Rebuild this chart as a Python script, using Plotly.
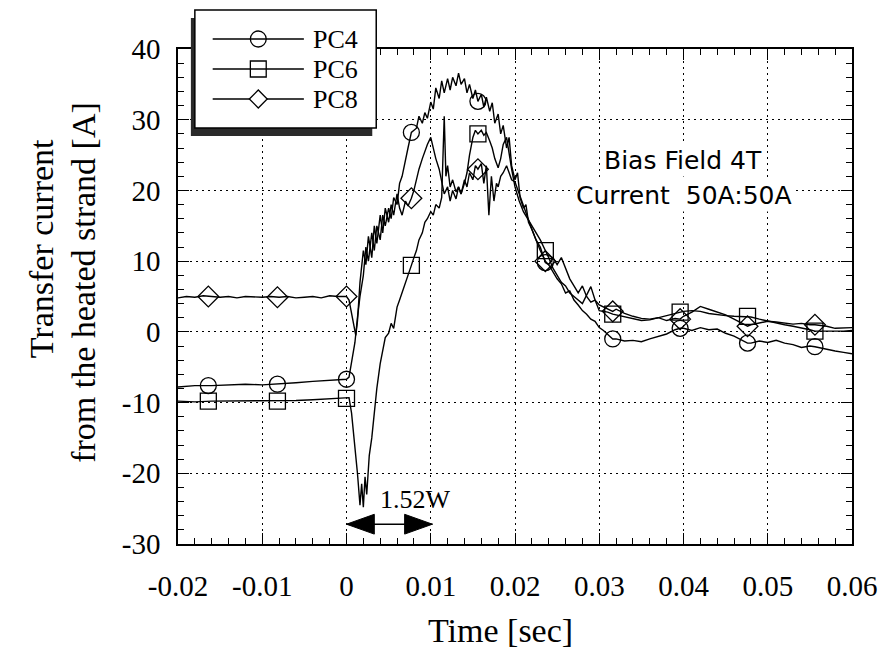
import plotly.graph_objects as go

# ---------------- data ----------------
pc4_t = [-0.02, -0.018, -0.016, -0.014, -0.012, -0.010, -0.008, -0.006, -0.004, -0.002, -0.0005, 0.0, 0.0003,
         0.0006, 0.001, 0.0013, 0.0016, 0.002, 0.0023, 0.0026, 0.003, 0.0033, 0.0036, 0.004, 0.0043, 0.0046,
         0.005, 0.0053, 0.0056, 0.006, 0.0063, 0.0066, 0.007, 0.0073, 0.0077, 0.008, 0.0083, 0.0086, 0.009,
         0.0093, 0.0096, 0.010, 0.0103, 0.0106, 0.011, 0.0113, 0.0116, 0.012, 0.0123, 0.0126, 0.013, 0.0133,
         0.0136, 0.014, 0.0143, 0.0146, 0.015, 0.0153, 0.0156, 0.016, 0.0163, 0.0166, 0.017, 0.0173, 0.0176,
         0.018, 0.0183, 0.0186, 0.019, 0.0193, 0.0196, 0.020, 0.0203, 0.0206, 0.021, 0.0213, 0.0216, 0.022,
         0.0225, 0.023, 0.0236, 0.024, 0.0245, 0.025, 0.0255, 0.026, 0.0265, 0.027, 0.0275, 0.028, 0.0285,
         0.029, 0.0295, 0.030, 0.0305, 0.031, 0.0316, 0.032, 0.033, 0.034, 0.035, 0.036, 0.037, 0.038, 0.039,
         0.0396, 0.040, 0.041, 0.042, 0.043, 0.044, 0.045, 0.046, 0.047, 0.0476, 0.048, 0.049, 0.050, 0.051,
         0.052, 0.053, 0.054, 0.055, 0.0556, 0.057, 0.058, 0.059, 0.060]
pc4_v = [-7.8, -7.6, -7.6, -7.5, -7.4, -7.5, -7.4, -7.2, -7.0, -6.9, -6.8, -6.7, -6.4,
         -4.5, -1.5, 2.0, 5.0, 8.0, 12.0, 10.0, 14.0, 11.5, 15.0, 13.0, 16.5, 15.0,
         17.5, 16.0, 19.0, 18.0, 21.0, 22.0, 24.5, 26.0, 28.2, 28.5, 28.8, 30.5, 29.5,
         31.0, 30.2, 32.5, 31.5, 34.5, 33.0, 35.5, 33.8, 35.8, 34.2, 36.0, 34.8, 36.6,
         35.0, 35.8, 33.8, 35.0, 33.0, 34.2, 32.6, 33.6, 31.8, 33.2, 31.2, 32.4, 29.5,
         30.8, 28.0, 29.2, 26.0, 27.5, 23.5, 21.5, 22.5, 19.0, 17.5, 18.0, 15.5, 14.5,
         13.0, 12.0, 9.8, 9.5, 8.5, 7.5, 6.8, 5.5, 5.8, 4.5, 3.8, 3.0, 2.5,
         1.8, 1.5, 0.6, 0.2, -0.3, -1.0, -1.0, -1.3, -1.2, -1.4, -1.0, -0.6, -0.3, 0.3,
         0.5, 0.5, 0.2, 0.6, 0.3, 0.4, -0.2, -0.6, -1.2, -1.6, -1.6, -1.3, -1.5, -1.2,
         -1.6, -1.8, -2.2, -2.0, -2.1, -2.5, -2.7, -2.9, -3.1]

pc6_t = [-0.02, -0.018, -0.016, -0.014, -0.012, -0.010, -0.008, -0.006, -0.004, -0.002, 0.0, 0.0003,
         0.0006, 0.001, 0.0013, 0.0016, 0.0018, 0.002, 0.0022, 0.0024, 0.0027, 0.003, 0.0033, 0.0036,
         0.004, 0.0043, 0.0046, 0.005, 0.0053, 0.0056, 0.006, 0.0063, 0.0066, 0.007, 0.0073, 0.0077,
         0.008, 0.0083, 0.0086, 0.009, 0.0093, 0.0096, 0.010, 0.0103, 0.0106, 0.011, 0.0113, 0.0116,
         0.0118, 0.012, 0.0123, 0.0126, 0.013, 0.0133, 0.0136, 0.014, 0.0143, 0.0146, 0.015, 0.0153,
         0.0156, 0.016, 0.0163, 0.0166, 0.017, 0.0173, 0.0176, 0.018, 0.0183, 0.0186, 0.019, 0.0193,
         0.0196, 0.020, 0.0205, 0.021, 0.0215, 0.022, 0.0225, 0.023, 0.0236, 0.024, 0.0245, 0.025,
         0.0255, 0.026, 0.0265, 0.027, 0.0275, 0.028, 0.029, 0.0295, 0.030, 0.031, 0.0316, 0.032, 0.033,
         0.034, 0.035, 0.036, 0.037, 0.038, 0.039, 0.0396, 0.040, 0.041, 0.042, 0.043, 0.044, 0.045,
         0.046, 0.047, 0.0476, 0.048, 0.049, 0.050, 0.051, 0.052, 0.053, 0.054, 0.055, 0.0556, 0.057,
         0.058, 0.059, 0.060]
pc6_v = [-9.8, -9.9, -9.8, -9.8, -9.7, -9.8, -9.8, -9.7, -9.6, -9.5, -9.4, -9.3,
         -11.5, -16.0, -20.0, -24.5, -21.5, -24.8, -20.5, -23.0, -17.5, -15.0, -11.5, -8.0,
         -4.5, -2.5, -0.8, -0.2, 1.2, 0.5, 3.5, 4.5, 5.5, 7.0, 7.8, 9.4,
         10.5, 11.5, 13.0, 14.0, 15.5, 16.0, 17.0, 16.5, 18.0, 17.5, 19.0, 30.5,
         22.0, 23.5, 20.5, 21.5, 19.8, 20.5, 19.5, 21.0, 22.5, 25.0, 27.5, 28.5,
         28.0, 28.5, 27.8, 28.2, 27.0, 26.0, 24.5, 23.2, 24.5, 26.5, 27.5, 25.0,
         23.0, 20.5, 18.5, 17.0, 16.0, 15.0, 14.0, 13.0, 11.5, 10.5, 9.0, 8.0,
         7.0, 6.5, 5.5, 5.0, 4.5, 4.0, 6.4, 4.5, 3.0, 2.8, 2.5, 2.4, 2.1,
         1.8, 1.6, 1.7, 2.0, 2.3, 2.6, 2.8, 2.9, 3.0, 2.9, 2.6, 2.4, 2.3,
         2.2, 2.2, 2.2, 2.1, 1.8, 1.5, 1.3, 1.0, 0.8, 0.6, 0.3, 0.1, 0.1,
         0.0, 0.1, 0.2]

pc8_t = [-0.02, -0.019, -0.018, -0.017, -0.016, -0.015, -0.014, -0.013, -0.012, -0.011, -0.010, -0.009,
         -0.008, -0.007, -0.006, -0.005, -0.004, -0.003, -0.002, -0.001, 0.0, 0.0003, 0.0006, 0.0009,
         0.0011, 0.0013, 0.0016, 0.002, 0.0023, 0.0026, 0.003, 0.0033, 0.0036, 0.004, 0.0043, 0.0046,
         0.005, 0.0053, 0.0056, 0.006, 0.0063, 0.0066, 0.007, 0.0073, 0.0077, 0.008, 0.0083, 0.0086,
         0.009, 0.0093, 0.0096, 0.010, 0.0103, 0.0106, 0.011, 0.0113, 0.0116, 0.012, 0.0123, 0.0126,
         0.013, 0.0133, 0.0136, 0.014, 0.0143, 0.0146, 0.015, 0.0153, 0.0156, 0.016, 0.0163, 0.0166,
         0.0169, 0.0172, 0.0175, 0.0178, 0.018, 0.0183, 0.0186, 0.019, 0.0193, 0.0196, 0.020, 0.0205,
         0.021, 0.0215, 0.022, 0.0225, 0.023, 0.0236, 0.024, 0.0245, 0.025, 0.0255, 0.026, 0.0265,
         0.027, 0.0275, 0.028, 0.0285, 0.029, 0.0295, 0.030, 0.031, 0.0316, 0.032, 0.033, 0.034, 0.035,
         0.036, 0.037, 0.038, 0.039, 0.0396, 0.040, 0.041, 0.042, 0.043, 0.044, 0.045, 0.046, 0.047,
         0.0476, 0.048, 0.049, 0.050, 0.051, 0.052, 0.053, 0.054, 0.055, 0.0556, 0.057, 0.058, 0.059,
         0.060]
pc8_v = [4.8, 5.0, 4.9, 5.1, 5.0, 4.9, 5.0, 4.8, 5.0, 4.9, 4.9, 5.0,
         4.9, 5.0, 4.8, 4.9, 5.0, 4.8, 5.1, 5.0, 5.0, 4.5, 2.5, 0.5,
         -0.5, 1.5, 7.0, 11.5, 9.5, 13.5, 10.5, 15.0, 12.5, 16.5, 14.0, 17.5,
         15.5, 18.0, 16.5, 19.5, 17.5, 16.5, 18.5, 17.8, 18.9, 20.0, 21.5, 23.0,
         24.5, 25.5, 26.5, 27.5, 26.0, 24.5, 23.0, 21.0, 19.5, 20.5, 18.5, 20.0,
         18.8, 20.5, 19.5, 21.5, 20.5, 22.5, 21.5, 23.5, 23.0, 23.8, 21.0, 23.5,
         16.5, 22.0, 18.5, 21.0, 20.5, 22.0, 22.5, 23.5, 22.5, 21.5, 21.2, 19.5,
         18.0, 16.0, 14.5, 13.0, 11.5, 10.0, 9.5, 10.5, 9.5, 10.5, 9.0, 7.5,
         6.5, 5.5, 6.5, 5.0, 4.2, 4.5, 3.8, 3.3, 2.9, 3.2, 2.6, 2.2, 1.9,
         1.8, 2.0, 1.6, 1.9, 1.8, 2.2, 2.8, 3.6, 3.2, 2.8, 2.4, 1.8, 1.2,
         0.8, 1.0, 1.3, 1.5, 1.4, 1.3, 1.1, 1.2, 1.0, 1.0, 0.8, 0.5, 0.5,
         0.6]

marker_t = [-0.0164, -0.0082, 0.0, 0.0077, 0.0156, 0.0236, 0.0316, 0.0396, 0.0476, 0.0556]
pc4_marker_v = [-7.6, -7.4, -6.7, 28.2, 32.6, 9.8, -1.0, 0.5, -1.6, -2.1]
pc6_marker_v = [-9.8, -9.8, -9.4, 9.4, 28.0, 11.5, 2.5, 2.8, 2.2, 0.1]
pc8_marker_v = [5.0, 4.9, 5.0, 18.9, 23.0, 10.0, 2.9, 1.8, 0.8, 1.0]

series_names = ["PC4", "PC6", "PC8"]
x_ticks = [-0.02, -0.01, 0.0, 0.01, 0.02, 0.03, 0.04, 0.05, 0.06]
x_tick_labels = ["-0.02", "-0.01", "0", "0.01", "0.02", "0.03", "0.04", "0.05", "0.06"]
y_ticks = [-30, -20, -10, 0, 10, 20, 30, 40]
y_tick_labels = ["-30", "-20", "-10", "0", "10", "20", "30", "40"]

pulse_start, pulse_end, pulse_level = 0.0, 0.0102, -27.2
pulse_label = "1.52W"
info_lines = ["Bias Field 4T", "Current  50A:50A"]

# ---------------- layout helpers ----------------
W, H = 889, 652
L, R, T, B = 178, 31, 49, 108
pw, ph = W - L - R, H - T - B
SERIF = "Liberation Serif, Times New Roman, serif"
SANS = "DejaVu Sans, Arial, sans-serif"


def px(x):
    return (x - L) / pw


def py(y):
    return (H - B - y) / ph


fig = go.Figure()
symbols = ["circle-open", "square-open", "diamond-open"]
line_data = [(pc4_t, pc4_v), (pc6_t, pc6_v), (pc8_t, pc8_v)]
marker_data = [pc4_marker_v, pc6_marker_v, pc8_marker_v]
for name, (tt, vv), mv, sym in zip(series_names, line_data, marker_data, symbols):
    fig.add_trace(go.Scatter(x=tt, y=vv, mode="lines", name=name, showlegend=False,
                             line=dict(color="black", width=1.4)))
    fig.add_trace(go.Scatter(x=marker_t, y=mv, mode="markers", showlegend=False,
                             marker=dict(symbol=sym, size=16, color="black",
                                         line=dict(width=1.3, color="black"))))

axis_common = dict(showline=True, linecolor="black", linewidth=1.5, mirror="ticks",
                   ticks="inside", ticklen=11, tickwidth=1.2, tickcolor="black",
                   showgrid=True, gridcolor="black", griddash="2px,4px", gridwidth=1.3,
                   zeroline=False, tickfont=dict(family=SERIF, size=29, color="black"))

fig.update_xaxes(range=[-0.02, 0.06], tickmode="array", tickvals=x_ticks, ticktext=x_tick_labels,
                 minor=dict(ticks="inside", ticklen=6, tickwidth=1, tickcolor="black",
                            tick0=-0.02, dtick=0.002, showgrid=False),
                 ticklabelstandoff=15, **axis_common)
fig.update_yaxes(range=[-30, 40], tickmode="array", tickvals=y_ticks, ticktext=y_tick_labels,
                 minor=dict(ticks="inside", ticklen=6, tickwidth=1, tickcolor="black",
                            tick0=-30, dtick=2, showgrid=False),
                 ticklabelstandoff=10, **axis_common)

shapes = []
annotations = []

# pulse arrow (double headed) in data coordinates
head_len, head_half = 0.0033, 1.4
shapes.append(dict(type="line", xref="x", yref="y", x0=pulse_start, x1=pulse_end,
                   y0=pulse_level, y1=pulse_level, line=dict(color="black", width=1.5)))
shapes.append(dict(type="path", xref="x", yref="y", fillcolor="black", line=dict(color="black", width=1),
                   path=f"M{pulse_start},{pulse_level} L{pulse_start + head_len},{pulse_level + head_half} "
                        f"L{pulse_start + head_len},{pulse_level - head_half} Z"))
shapes.append(dict(type="path", xref="x", yref="y", fillcolor="black", line=dict(color="black", width=1),
                   path=f"M{pulse_end},{pulse_level} L{pulse_end - head_len},{pulse_level + head_half} "
                        f"L{pulse_end - head_len},{pulse_level - head_half} Z"))
annotations.append(dict(text=pulse_label, xref="paper", yref="paper", x=px(418), y=py(499),
                        showarrow=False, font=dict(family=SERIF, size=26, color="black"),
                        xanchor="center", yanchor="middle"))

# info text
annotations.append(dict(text=info_lines[0], xref="paper", yref="paper", x=px(687), y=py(160),
                        showarrow=False, font=dict(family=SANS, size=25, color="black"),
                        xanchor="center", yanchor="middle", bgcolor="white"))
annotations.append(dict(text=info_lines[1], xref="paper", yref="paper", x=px(688), y=py(195),
                        showarrow=False, font=dict(family=SANS, size=25, color="black"),
                        xanchor="center", yanchor="middle", bgcolor="white"))

# legend box with shadow
bx0, bx1, by0, by1 = 195, 378, 10, 128
shapes.append(dict(type="rect", xref="paper", yref="paper", layer="above",
                   x0=px(bx0 - 4), x1=px(bx1 - 4), y0=py(by0 + 8), y1=py(by1 + 8),
                   fillcolor="#2a2a2a", line=dict(width=0)))
shapes.append(dict(type="rect", xref="paper", yref="paper", layer="above",
                   x0=px(bx0), x1=px(bx1), y0=py(by0), y1=py(by1),
                   fillcolor="white", line=dict(color="black", width=1.5)))
rows = [39, 69, 99]
mk_paths = ["circle", "rect", "diamond"]
for name, ry, kind in zip(series_names, rows, mk_paths):
    shapes.append(dict(type="line", xref="paper", yref="paper", layer="above",
                       x0=px(213), x1=px(305), y0=py(ry), y1=py(ry), line=dict(color="black", width=1.4)))
    mx, r = 259, 8
    if kind == "circle":
        shapes.append(dict(type="circle", xref="paper", yref="paper", layer="above",
                           x0=px(mx - r), x1=px(mx + r), y0=py(ry - r), y1=py(ry + r),
                           line=dict(color="black", width=1.3)))
    elif kind == "rect":
        shapes.append(dict(type="rect", xref="paper", yref="paper", layer="above",
                           x0=px(mx - r), x1=px(mx + r), y0=py(ry - r), y1=py(ry + r),
                           line=dict(color="black", width=1.3)))
    else:
        d = 9
        shapes.append(dict(type="path", xref="paper", yref="paper", layer="above",
                           path=f"M{px(mx - d)},{py(ry)} L{px(mx)},{py(ry - d)} L{px(mx + d)},{py(ry)} "
                                f"L{px(mx)},{py(ry + d)} Z",
                           line=dict(color="black", width=1.3), fillcolor="white"))
    annotations.append(dict(text=name, xref="paper", yref="paper", x=px(313), y=py(ry),
                            showarrow=False, xanchor="left", yanchor="middle", borderpad=0,
                            font=dict(family=SERIF, size=26, color="black")))

# axis titles
annotations.append(dict(text="Time [sec]", xref="paper", yref="paper", x=px(503), y=py(630),
                        showarrow=False, xanchor="center", yanchor="middle",
                        font=dict(family=SERIF, size=34, color="black")))
annotations.append(dict(text="Transfer current", xref="paper", yref="paper", x=px(40), y=py(249),
                        showarrow=False, xanchor="center", yanchor="middle", textangle=-90,
                        font=dict(family=SERIF, size=34, color="black")))
annotations.append(dict(text="from the heated strand [A]", xref="paper", yref="paper", x=px(82), y=py(282),
                        showarrow=False, xanchor="center", yanchor="middle", textangle=-90,
                        font=dict(family=SERIF, size=34, color="black")))

fig.update_layout(width=W, height=H, margin=dict(l=L, r=R, t=T, b=B),
                  paper_bgcolor="white", plot_bgcolor="white", showlegend=False,
                  shapes=shapes, annotations=annotations)

fig.write_html("out.html")
